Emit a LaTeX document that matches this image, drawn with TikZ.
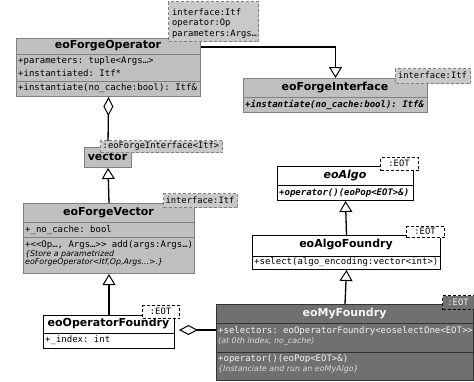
\documentclass[tikz,border=0pt]{standalone}
\usepackage{fontspec}
\setmainfont{DejaVu Sans}
\setmonofont{DejaVu Sans Mono}
\usetikzlibrary{arrows.meta}
\definecolor{boxgray}{HTML}{C0C0C0}
\definecolor{linegray}{HTML}{808080}
\definecolor{darkbox}{HTML}{707070}
\definecolor{darktext}{HTML}{F4F4F4}
\definecolor{darknote}{HTML}{DCDCDC}
\newcommand{\dbllt}{<\kern0pt<}
\newcommand{\dblgt}{>\kern0pt>}
\tikzset{
  classbox/.style={draw=linegray, fill=boxgray, line width=1pt, anchor=north west, inner sep=0pt},
  whitebox/.style={classbox, draw=black, fill=white},
  darkclass/.style={classbox, draw=black!80, fill=darkbox},
  sepline/.style={draw=linegray, line width=1pt},
  tplgray/.style={draw=linegray, fill=boxgray!85!white, dash pattern=on 3pt off 2pt, line width=1pt,
    anchor=north west, inner sep=0pt},
  tplwhite/.style={tplgray, draw=black, fill=white},
  title/.style={font=\bfseries\fontsize{11}{12}\selectfont, inner sep=0pt},
  member/.style={font=\ttfamily\fontsize{9}{10}\selectfont, anchor=west, inner sep=0pt},
  abstract/.style={member, font=\ttfamily\bfseries\itshape\fontsize{9}{10}\selectfont},
  comment/.style={font=\itshape\fontsize{7.9}{9}\selectfont, anchor=west, inner sep=0pt},
  tpltext/.style={font=\ttfamily\fontsize{8.8}{10}\selectfont, inner sep=0pt},
  inherit/.style={line width=1.3pt, -{Triangle[open, length=11pt, width=13pt, line width=1pt]}},
  aggreg/.style={line width=1.3pt, {Diamond[open, length=19pt, width=10pt, line width=1pt]}-},
}
\begin{document}
\begin{tikzpicture}[x=1pt, y=-1pt]
\useasboundingbox (0,0) rectangle (474,381);

% eoForgeOperator
\node[classbox, minimum width=184pt, minimum height=58pt] (forgeop) at (16,38) {};
\draw[sepline] (16,54) -- (200,54);
\draw[sepline] (16,81) -- (200,81);
\node[title] at (108,46) {eoForgeOperator};
\node[member] at (18,61) {+parameters: tuple<Args…>};
\node[member] at (18,73) {+instantiated: Itf*};
\node[member] at (18,88) {+instantiate(no\_cache:bool): Itf\&};

% eoForgeInterface
\node[classbox, minimum width=184pt, minimum height=34pt] (forgeint) at (243,78) {};
\draw[sepline] (243,97) -- (427,97);
\node[title] at (335,88) {eoForgeInterface};
\node[abstract] at (245,105) {+instantiate(no\_cache:bool): Itf\&};

% vector
\node[classbox, minimum width=47pt, minimum height=20pt] (vector) at (84,147) {};
\node[title] at (107.5,157) {vector};

% eoForgeVector
\node[classbox, minimum width=171pt, minimum height=70pt] (forgevec) at (23,203) {};
\draw[sepline] (23,222) -- (194,222);
\draw[sepline] (23,237) -- (194,237);
\node[title] at (108.5,213) {eoForgeVector};
\node[member] at (25,230) {+\_no\_cache: bool};
\node[member] at (25,245) {+\dbllt Op…, Args…\dblgt{} add(args:Args…)};
\node[comment] at (25,254) {\{Store a parametrized};
\node[comment] at (25,262) {eoForgeOperator<Itf,Op,Args...>.\}};

% eoOperatorFoundry
\node[whitebox, minimum width=131pt, minimum height=33pt] (opfoundry) at (43,315) {};
\draw[sepline, draw=black] (43,333) -- (174,333);
\node[title] at (108.5,324) {eoOperatorFoundry};
\node[member] at (45,340) {+\_index: int};

% eoAlgo
\node[whitebox, minimum width=136pt, minimum height=34pt] (algo) at (277,166) {};
\draw[sepline, draw=black] (277,185) -- (413,185);
\node[title, font=\bfseries\itshape\fontsize{11}{12}\selectfont] at (345,176) {eoAlgo};
\node[abstract] at (279,193) {+operator()(eoPop<EOT>\&)};

% eoAlgoFoundry
\node[whitebox, minimum width=188pt, minimum height=34pt] (algofoundry) at (252,235) {};
\draw[sepline, draw=black] (252,256) -- (440,256);
\node[title] at (346,245) {eoAlgoFoundry};
\node[member] at (254,262) {+select(algo\_encoding:vector<int>)};

% eoMyFoundry
\node[darkclass, minimum width=257pt, minimum height=76pt] (myfoundry) at (216,304) {};
\draw[sepline, draw=black!80] (216,323) -- (473,323);
\draw[sepline, draw=black!80] (216,352) -- (473,352);
\node[title, text=darktext] at (344.5,314) {eoMyFoundry};
\node[member, text=darktext] at (218,331) {+selectors: eoOperatorFoundry<eoselectOne<EOT\dblgt};
\node[comment, text=darknote] at (218,341) {(at 0th index, no\_cache)};
\node[member, text=darktext] at (218,359) {+operator()(eoPop<EOT>\&)};
\node[comment, text=darknote] at (218,369) {\{Instanciate and run an eoMyAlgo\}};

% connectors
\draw[inherit] ([yshift=-9pt]forgeop.north east) -| (forgeint.north);
\draw[aggreg] (forgeop.south) -- (vector.north);
\draw[inherit] (forgevec.north) -- (vector.south);
\draw[inherit] (opfoundry.north) -- (forgevec.south);
\draw[aggreg, shorten <=4pt] (opfoundry.east |- 0,330) -- (myfoundry.west |- 0,330);
\draw[inherit] (algofoundry.north) -- (algo.south);
\draw[inherit] (myfoundry.north) -- (algofoundry.south);

% template parameters
\node[tplgray, minimum width=90pt, minimum height=40pt] (forgeopTpl) at (168,1) {};
\node[tpltext, anchor=west] at (172,12) {interface:Itf};
\node[tpltext, anchor=west] at (172,23) {operator:Op};
\node[tpltext, anchor=west] at (172,34) {parameters:Args…};
\node[tplgray, minimum width=75pt, minimum height=15pt] (forgeintTpl) at (395,68) {};
\node[tpltext] at (432.5,75.5) {interface:Itf};
\node[tplgray, minimum width=122pt, minimum height=12pt] (vectorTpl) at (100,140) {};
\node[tpltext] at (161,146) {:eoForgeInterface<Itf>};
\node[tplgray, minimum width=74pt, minimum height=14pt] (forgevecTpl) at (163,193) {};
\node[tpltext] at (200,200) {interface:Itf};
\node[tplwhite, minimum width=37pt, minimum height=13pt] (opfoundryTpl) at (142,305) {};
\node[tpltext] at (160.5,311.5) {:EOT};
\node[tplwhite, minimum width=38pt, minimum height=13pt] (algoTpl) at (380,157) {};
\node[tpltext] at (399,163.5) {:EOT};
\node[tplwhite, minimum width=38pt, minimum height=11pt] (algofoundryTpl) at (406,226) {};
\node[tpltext] at (425,231.5) {:EOT};
\node[tplwhite, fill=darkbox, minimum width=32pt, minimum height=14pt] (myfoundryTpl) at (442,295) {};
\node[tpltext, text=darktext] at (458,302) {:EOT};
\end{tikzpicture}
\end{document}
